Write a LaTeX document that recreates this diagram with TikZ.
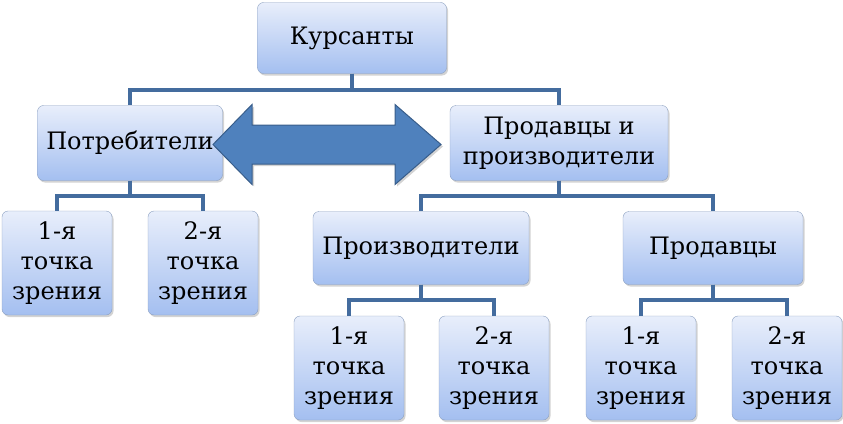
\documentclass[tikz,border=0pt]{standalone}
\usepackage{fontspec}
\setmainfont{DejaVu Serif}
\usetikzlibrary{positioning,shadows}
\definecolor{boxtop}{RGB}{232,238,251}
\definecolor{boxbot}{RGB}{164,191,240}
\definecolor{boxline}{RGB}{140,160,192}
\definecolor{linkcol}{RGB}{68,108,158}
\definecolor{arrfill}{RGB}{79,129,189}
\definecolor{arrline}{RGB}{56,93,138}
\tikzstyle{box}=[draw=boxline,rounded corners=6pt,top color=boxtop,bottom color=boxbot,
  align=center,inner sep=2pt,font=\rmfamily\fontsize{24}{30}\selectfont,
  drop shadow={opacity=0.35,shadow xshift=1.5pt,shadow yshift=-2pt}]
\tikzstyle{leaf}=[box,node distance=120pt,minimum width=110pt,minimum height=104pt]
\tikzstyle{link}=[draw=linkcol,line width=4pt]
\tikzstyle{dblarrow}=[fill=arrfill,draw=arrline,line width=1pt,line join=miter,
  drop shadow={opacity=0.35,shadow xshift=2pt,shadow yshift=-2pt}]

\begin{document}
\begin{tikzpicture}[x=1pt,y=-1pt,node distance=105pt]
  \useasboundingbox (0,0) rectangle (843,423);
  \node[box,minimum width=189pt,minimum height=71pt] (kurs) at (352,38) {Курсанты};
  \node[box,minimum width=185pt,minimum height=75pt] (potr) [below of=kurs,xshift=-222pt] {Потребители};
  \node[box,minimum width=218pt,minimum height=75pt] (prod) [below of=kurs,xshift=207pt] {Продавцы и\\производители};
  \node[leaf] (potr1) [below of=potr,xshift=-73pt] {1-я\\точка\\зрения};
  \node[leaf] (potr2) [below of=potr,xshift=73pt] {2-я\\точка\\зрения};
  \node[box,minimum width=216pt,minimum height=73pt] (proiz) [below of=prod,xshift=-138pt] {Производители};
  \node[box,minimum width=180pt,minimum height=73pt] (prodv) [below of=prod,xshift=154pt] {Продавцы};
  \node[leaf] (proiz1) [below of=proiz,xshift=-72pt] {1-я\\точка\\зрения};
  \node[leaf] (proiz2) [below of=proiz,xshift=73pt] {2-я\\точка\\зрения};
  \node[leaf] (prodv1) [below of=prodv,xshift=-72pt] {1-я\\точка\\зрения};
  \node[leaf] (prodv2) [below of=prodv,xshift=74pt] {2-я\\точка\\зрения};

  % connectors
  \draw[link] (kurs.south) -- ++(0,16) -| (potr.north);
  \draw[link] (kurs.south) -- ++(0,16) -| (prod.north);
  \draw[link] (potr.south) -- ++(0,15) -| (potr1.north);
  \draw[link] (potr.south) -- ++(0,15) -| (potr2.north);
  \draw[link] (prod.south) -- ++(0,15) -| (proiz.north);
  \draw[link] (prod.south) -- ++(0,15) -| (prodv.north);
  \draw[link] (proiz.south) -- ++(0,15) -| (proiz1.north);
  \draw[link] (proiz.south) -- ++(0,15) -| (proiz2.north);
  \draw[link] (prodv.south) -- ++(0,15) -| (prodv1.north);
  \draw[link] (prodv.south) -- ++(0,15) -| (prodv2.north);

  % double arrow
  \draw[dblarrow] (213,144.5) -- (252,104.5) -- (252,125) -- (395,125) -- (395,104.5)
    -- (441,144.5) -- (395,184.5) -- (395,164) -- (252,164) -- (252,184.5) -- cycle;
\end{tikzpicture}
\end{document}
